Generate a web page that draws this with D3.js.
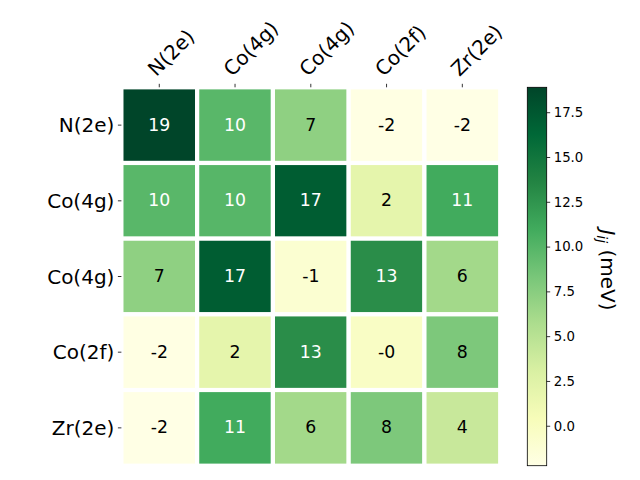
<!DOCTYPE html>
<html>
<head>
<meta charset="utf-8">
<script src="https://cdn.jsdelivr.net/npm/d3@7"></script>
<style>
  html, body { margin: 0; padding: 0; background: #fff; }
  svg { display: block; font-family: "DejaVu Sans", sans-serif; }
</style>
</head>
<body>
<svg id="chart" width="640" height="480"></svg>
<script>
// ---- data ----
const colLabels = ["N(2e)", "Co(4g)", "Co(4g)", "Co(2f)", "Zr(2e)"];
const rowLabels = ["N(2e)", "Co(4g)", "Co(4g)", "Co(2f)", "Zr(2e)"];
const rowN2e  = [18.89, 9.8, 7.2, -2.1, -2.23];
const rowCo4g1 = [9.8, 9.9, 17.1, 2.0, 11.0];
const rowCo4g2 = [7.2, 17.1, -1.0, 13.0, 6.2];
const rowCo2f = [-2.1, 2.0, 13.0, -0.3, 8.1];
const rowZr2e = [-2.23, 11.0, 6.2, 8.1, 4.1];
const matrix = [rowN2e, rowCo4g1, rowCo4g2, rowCo2f, rowZr2e];
const cbarTicks = [0.0, 2.5, 5.0, 7.5, 10.0, 12.5, 15.0, 17.5];
const ylgn = ["#ffffe5", "#f7fcb9", "#d9f0a3", "#addd8e", "#78c679", "#41ab5d", "#238443", "#006837", "#004529"];

// ---- layout ----
const svg = d3.select("#chart");
const ax = { left: 121.4, right: 500.2, top: 87.3, bottom: 465.7 };
const cb = { left: 527.3, right: 546.7, top: 87.3, bottom: 465.7 };

const all = matrix.flat();
const vmin = d3.min(all), vmax = d3.max(all);
const color = d3.scaleLinear()
  .domain(ylgn.map((_, i) => vmin + i * (vmax - vmin) / (ylgn.length - 1)))
  .range(ylgn)
  .interpolate(d3.interpolateRgb)
  .clamp(true);

const x = d3.scaleBand().domain(d3.range(colLabels.length)).range([ax.left, ax.right]);
const y = d3.scaleBand().domain(d3.range(rowLabels.length)).range([ax.top, ax.bottom]);

function lum(c) {
  const rgb = d3.rgb(c);
  const f = v => { v /= 255; return v <= 0.03928 ? v / 12.92 : Math.pow((v + 0.055) / 1.055, 2.4); };
  return 0.2126 * f(rgb.r) + 0.7152 * f(rgb.g) + 0.0722 * f(rgb.b);
}

const cells = [];
matrix.forEach((row, i) => row.forEach((v, j) => cells.push({ i, j, v })));

const g = svg.append("g");
g.selectAll("rect.cell").data(cells).enter().append("rect")
  .attr("class", "cell")
  .attr("x", d => x(d.j)).attr("y", d => y(d.i))
  .attr("width", x.bandwidth()).attr("height", y.bandwidth())
  .attr("fill", d => color(d.v))
  .attr("stroke", "#fff").attr("stroke-width", 4.17);

const fmt0 = v => { const s = Math.round(v).toFixed(0); return (v < 0 && s === "0") ? "-0" : s; };
g.selectAll("text.ann").data(cells).enter().append("text")
  .attr("class", "ann")
  .attr("x", d => x(d.j) + x.bandwidth() / 2)
  .attr("y", d => y(d.i) + y.bandwidth() / 2 + 5.4)
  .attr("text-anchor", "middle")
  .attr("font-size", 17.3)
  .attr("fill", d => lum(color(d.v)) > 0.408 ? "#000" : "#fff")
  .text(d => fmt0(d.v));

// ---- x axis (top) ----
const xAxis = svg.append("g").attr("transform", `translate(0,${ax.top})`)
  .call(d3.axisTop(x).tickSize(3.5).tickFormat(i => colLabels[i]));
xAxis.select(".domain").remove();
xAxis.selectAll(".tick line").attr("stroke", "#000").attr("stroke-width", 0.8);
const fsX = 20, c45 = Math.SQRT1_2;
const desc = 0.208 * fsX;
xAxis.selectAll(".tick text")
  .attr("font-size", fsX).attr("font-family", "DejaVu Sans").attr("fill", "#000")
  .attr("text-anchor", "start").attr("x", 0).attr("y", 0).attr("dy", null)
  .attr("transform", `translate(${-desc * c45},${-7 - desc * c45}) rotate(-45)`);

// ---- y axis (left) ----
const yAxis = svg.append("g").attr("transform", `translate(${ax.left},0)`)
  .call(d3.axisLeft(y).tickSize(3.5).tickPadding(3.5).tickFormat(i => rowLabels[i]));
yAxis.select(".domain").remove();
yAxis.selectAll(".tick line").attr("stroke", "#000").attr("stroke-width", 0.8);
yAxis.selectAll(".tick text")
  .attr("font-size", 20).attr("font-family", "DejaVu Sans").attr("fill", "#000")
  .attr("dy", null).attr("y", 7.2);

// ---- colorbar ----
const defs = svg.append("defs");
const grad = defs.append("linearGradient").attr("id", "cbgrad")
  .attr("x1", 0).attr("y1", 1).attr("x2", 0).attr("y2", 0);
ylgn.forEach((c, i) => grad.append("stop")
  .attr("offset", i / (ylgn.length - 1)).attr("stop-color", c));

const cbScale = d3.scaleLinear().domain([vmin, vmax]).range([cb.bottom, cb.top]);
svg.append("rect")
  .attr("x", cb.left).attr("y", cbScale(vmax))
  .attr("width", cb.right - cb.left).attr("height", cbScale(vmin) - cbScale(vmax))
  .attr("fill", "url(#cbgrad)")
  .attr("stroke", "#000").attr("stroke-width", 0.8);

const cbAxis = svg.append("g").attr("transform", `translate(${cb.right},0)`)
  .call(d3.axisRight(cbScale).tickValues(cbarTicks).tickSize(3.5).tickPadding(3.5).tickFormat(d3.format(".1f")));
cbAxis.select(".domain").remove();
cbAxis.selectAll(".tick line").attr("stroke", "#000").attr("stroke-width", 0.8);
cbAxis.selectAll(".tick text").attr("font-size", 13.3).attr("font-family", "DejaVu Sans").attr("fill", "#000");

// colorbar label
const lab = svg.append("text")
  .attr("transform", `translate(600.5,270) rotate(90)`)
  .attr("text-anchor", "middle")
  .attr("font-size", 20).attr("fill", "#000");
lab.append("tspan").attr("font-style", "italic").text("J");
lab.append("tspan").attr("font-style", "italic").attr("font-size", 14).attr("dy", 4).text("ij");
lab.append("tspan").attr("dy", -4).text(" (meV)");
</script>
</body>
</html>
